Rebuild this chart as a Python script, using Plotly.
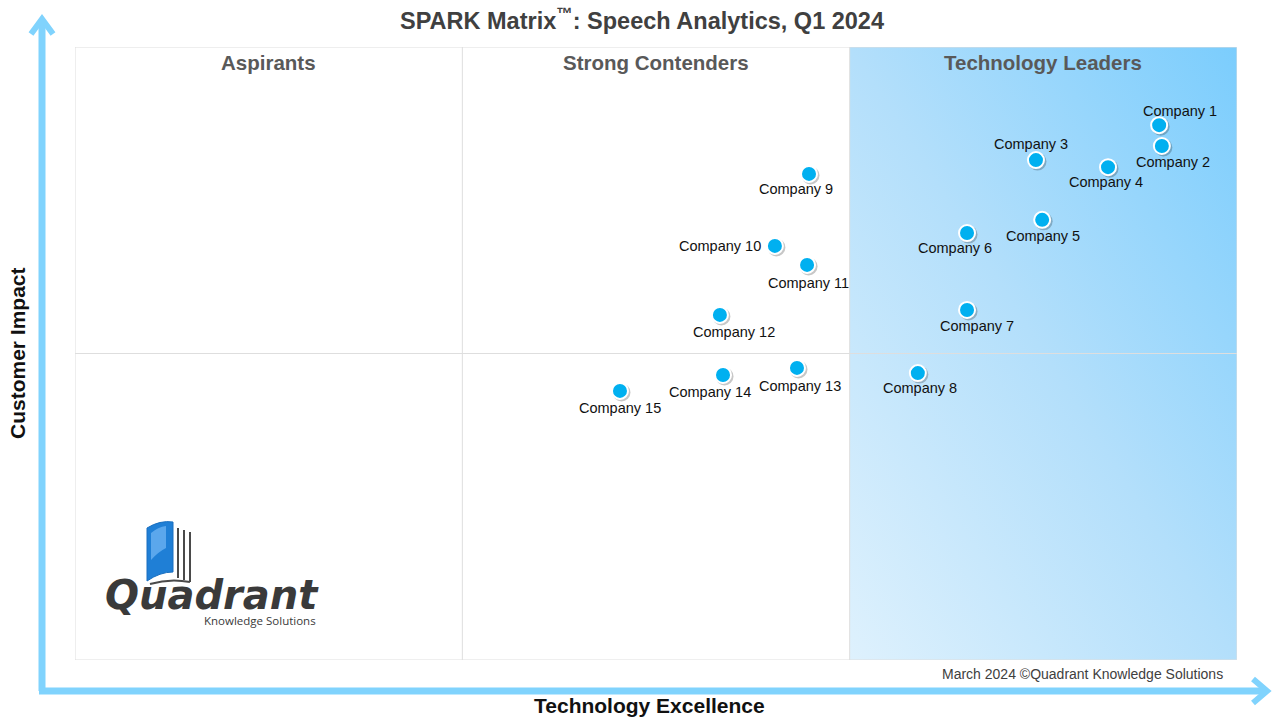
import base64
import plotly.graph_objects as go

# data (x: Technology Excellence 0-3, y: Customer Impact 0-2)
companies = ["Company 1", "Company 2", "Company 3", "Company 4", "Company 5",
             "Company 6", "Company 7", "Company 8", "Company 9", "Company 10",
             "Company 11", "Company 12", "Company 13", "Company 14", "Company 15"]
tech_excellence = [2.799, 2.806, 2.481, 2.667, 2.497, 2.303, 2.303, 2.176,
                   1.895, 1.807, 1.890, 1.665, 1.864, 1.673, 1.407]
customer_impact = [1.745, 1.677, 1.631, 1.608, 1.436, 1.393, 1.142, 0.936,
                   1.586, 1.351, 1.289, 1.126, 0.953, 0.930, 0.878]
quadrants = ["Aspirants", "Strong Contenders", "Technology Leaders"]

# label offsets in pixels (dx, dy down), just for placing the names
label_off = [(21, -14), (11, 16), (-5, -16), (-2, 15), (1, 16), (-12, 15), (10, 16),
             (2, 15), (-13, 15), (-55, 0), (1, 18), (14, 17), (3, 18), (-13, 17), (0, 17)]

W, H = 1280, 720
L, R, T, B = 75, 1237, 47, 660   # plot area in pixels

def px(x):
    return (x - L) / (R - L)

def py(y):
    return (B - y) / (B - T)

ARROW = "#80d3fd"
FONT = "Liberation Sans, Arial, sans-serif"

fig = go.Figure()

# shadow + markers
fig.add_trace(go.Scatter(
    x=[v + 1.5 / 387.3 for v in tech_excellence],
    y=[v - 1.5 / 306.5 for v in customer_impact],
    mode="markers", hoverinfo="skip",
    marker=dict(size=18, color="rgba(0,0,0,0.22)", line=dict(width=0)),
))
fig.add_trace(go.Scatter(
    x=tech_excellence, y=customer_impact, mode="markers", text=companies,
    hovertemplate="%{text}<extra></extra>",
    marker=dict(size=16, color="#00b0f0", line=dict(color="white", width=2)),
))

for name, xv, yv, (dx, dy) in zip(companies, tech_excellence, customer_impact, label_off):
    fig.add_annotation(x=xv, y=yv, text=name, showarrow=False, xshift=dx, yshift=-dy,
                       xanchor="center", yanchor="middle",
                       font=dict(family=FONT, size=14.5, color="#111111"))

# gradient for the leaders quadrant
svg = ("<svg xmlns='http://www.w3.org/2000/svg' width='200' height='200' preserveAspectRatio='none'>"
       "<defs><linearGradient id='g' x1='0' y1='1' x2='1' y2='0'>"
       "<stop offset='0' stop-color='#def1fd'/><stop offset='0.5' stop-color='#b3dffb'/>"
       "<stop offset='1' stop-color='#7bcdfd'/></linearGradient></defs>"
       "<rect width='200' height='200' fill='url(#g)'/></svg>")
src = "data:image/svg+xml;base64," + base64.b64encode(svg.encode()).decode()
fig.add_layout_image(source=src, xref="x", yref="y", x=2, y=2, sizex=1, sizey=2,
                     sizing="stretch", xanchor="left", yanchor="top", layer="below")

# quadrant grid
grid = dict(color="#dedede", width=1)
fig.add_shape(type="rect", xref="x", yref="y", x0=0, x1=3, y0=0, y1=2, line=grid, layer="above")
fig.add_shape(type="line", xref="x", yref="y", x0=1, x1=1, y0=0, y1=2, line=grid)
fig.add_shape(type="line", xref="x", yref="y", x0=2, x1=2, y0=0, y1=2, line=grid)
fig.add_shape(type="line", xref="x", yref="y", x0=0, x1=3, y0=1, y1=1, line=grid)

for i, q in enumerate(quadrants):
    fig.add_annotation(x=i + 0.5, y=2, yshift=-15, text="<b>" + q + "</b>", showarrow=False,
                       xanchor="center", yanchor="middle",
                       font=dict(family=FONT, size=20.5, color="#595959"))

# axis arrows
fig.add_shape(type="line", xref="paper", yref="paper", x0=px(42), x1=px(42), y0=py(691), y1=py(20),
              line=dict(color=ARROW, width=7))
fig.add_shape(type="path", xref="paper", yref="paper",
              path=f"M {px(31)},{py(34)} L {px(42)},{py(19)} L {px(53)},{py(34)}",
              line=dict(color=ARROW, width=6))
fig.add_shape(type="line", xref="paper", yref="paper", x0=px(39), x1=px(1266), y0=py(691), y1=py(691),
              line=dict(color=ARROW, width=7))
fig.add_shape(type="path", xref="paper", yref="paper",
              path=f"M {px(1253)},{py(679)} L {px(1267)},{py(691)} L {px(1253)},{py(703)}",
              line=dict(color=ARROW, width=6))

# logo
fig.add_shape(type="path", xref="paper", yref="paper",
              path=f"M {px(147)},{py(528)} Q {px(160)},{py(520)} {px(173)},{py(522)} "
                   f"L {px(173)},{py(572)} Q {px(160)},{py(572)} {px(147)},{py(581)} Z",
              fillcolor="#1f7fd6", line=dict(color="#1a6fbf", width=1))
fig.add_shape(type="path", xref="paper", yref="paper",
              path=f"M {px(151)},{py(533)} Q {px(158)},{py(527)} {px(166)},{py(526)} "
                   f"L {px(166)},{py(548)} Q {px(158)},{py(552)} {px(151)},{py(560)} Z",
              fillcolor="rgba(140,200,255,0.55)", line=dict(width=0))
for xl, ytop, ybot in [(178, 528, 578), (184, 530, 580), (190, 532, 582)]:
    fig.add_shape(type="line", xref="paper", yref="paper", x0=px(xl), x1=px(xl),
                  y0=py(ytop), y1=py(ybot), line=dict(color="#4a4a4a", width=2))
fig.add_shape(type="path", xref="paper", yref="paper",
              path=f"M {px(150)},{py(584)} Q {px(170)},{py(578)} {px(190)},{py(582)}",
              line=dict(color="#4a4a4a", width=2))
fig.add_annotation(xref="paper", yref="paper", x=px(212), y=py(595), text="<b><i>Quadrant</i></b>",
                   xanchor="center", yanchor="middle", showarrow=False,
                   font=dict(family="DejaVu Sans, sans-serif", size=40, color="#3a3a3a"))
fig.add_annotation(xref="paper", yref="paper", x=px(318), y=py(620), xanchor="right", yanchor="middle",
                   text="Knowledge Solutions", showarrow=False,
                   font=dict(family="Open Sans, sans-serif", size=11.5, color="#3a3a3a"))

# titles and footer
fig.add_annotation(xref="paper", yref="paper", x=px(642), y=py(19), xanchor="center", yanchor="middle",
                   text="<b>SPARK Matrix<sup>™</sup>: Speech Analytics, Q1 2024</b>", showarrow=False,
                   font=dict(family=FONT, size=23.5, color="#404040"))
fig.add_annotation(xref="paper", yref="paper", x=px(649), y=py(706), xanchor="center", yanchor="middle",
                   text="<b>Technology Excellence</b>",
                   showarrow=False, font=dict(family=FONT, size=21, color="#111111"))
fig.add_annotation(xref="paper", yref="paper", x=px(17), y=py(353), xanchor="center", yanchor="middle",
                   text="<b>Customer Impact</b>",
                   textangle=-90, showarrow=False, font=dict(family=FONT, size=21, color="#111111"))
fig.add_annotation(xref="paper", yref="paper", x=px(1225), y=py(674), xanchor="right", yanchor="middle",
                   text="March 2024 ©Quadrant Knowledge Solutions", showarrow=False,
                   font=dict(family=FONT, size=14, color="#404040"))

fig.update_xaxes(range=[0, 3], visible=False, fixedrange=True)
fig.update_yaxes(range=[0, 2], visible=False, fixedrange=True)
fig.update_layout(width=W, height=H,
                  margin=dict(l=L, r=W - R, t=T, b=H - B),
                  paper_bgcolor="white", plot_bgcolor="white", showlegend=False)

# drop the default 8px page margin so the figure fills the window exactly
fig.write_html("out.html", config={"displayModeBar": False},
               post_script="document.body.style.margin='0';document.body.style.overflow='hidden';")
